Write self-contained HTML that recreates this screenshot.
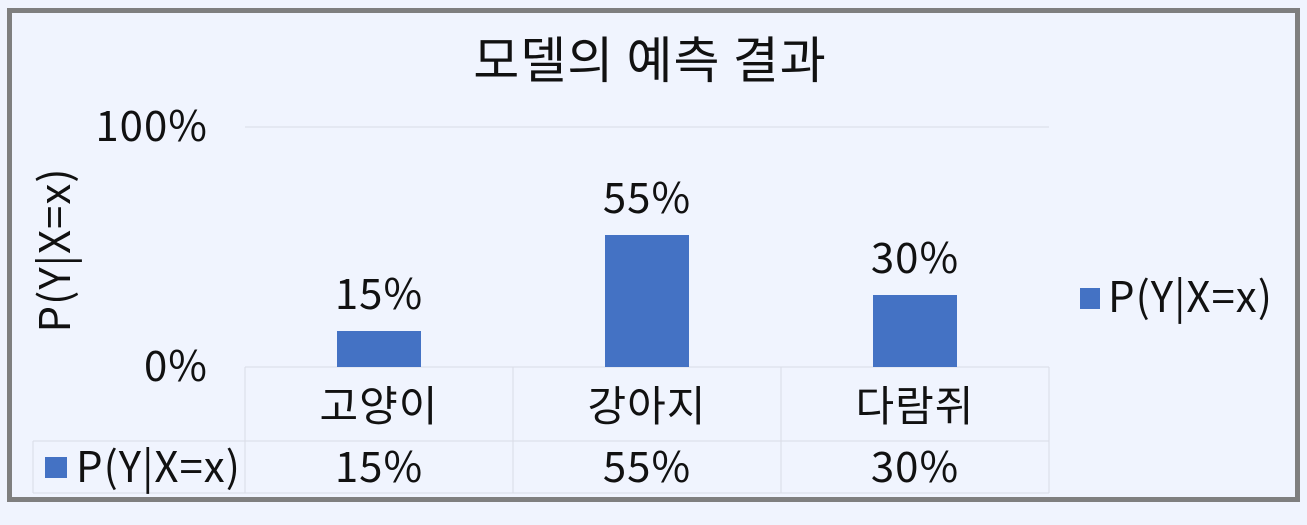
<!DOCTYPE html>
<html><head><meta charset="utf-8"><style>
body{margin:0;background:#f0f4fe;}
svg text{font-family:"Noto Sans CJK KR","Liberation Sans",sans-serif;fill:#111;letter-spacing:1px;}
</style></head><body>
<svg width="1307" height="520">
<rect x="0" y="0" width="1307" height="520" fill="#f0f4fe"/>
<rect x="9.5" y="10.5" width="1288" height="489" fill="none" stroke="#7f7f7f" stroke-width="5"/>
<text x="650" y="78" font-size="50" text-anchor="middle">모델의 예측 결과</text>
<text transform="translate(70,250) rotate(-90)" font-size="42" text-anchor="middle">P(Y|X=x)</text>
<g id="plot"></g>
<rect x="1080" y="288" width="20" height="21" fill="#4472c4"/>
<text x="1108" y="312" font-size="42">P(Y|X=x)</text>
</svg>
<script>
const categories=["고양이","강아지","다람쥐"];
const values=[15,55,30];
const ticks=[0,100];
const svg=document.getElementById('plot');
const NS="http://www.w3.org/2000/svg";
const x0=245,x1=1049,yBase=367,yTop=127;
const bw=(x1-x0)/categories.length;
const y=v=>yBase-(v/100)*(yBase-yTop);
function mk(t,a,txt){const e=document.createElementNS(NS,t);for(const k in a)e.setAttribute(k,a[k]);if(txt!=null)e.textContent=txt;svg.appendChild(e);return e;}
ticks.forEach(t=>{
 if(t>0){const g=mk('line',{x1:x0,x2:x1,y1:y(t),y2:y(t),stroke:'#d9dce6','stroke-width':1});
 
 }
 const l=mk('text',{x:208,y:y(t)+14,'font-size':42,'text-anchor':'end'},t+'%');
 
 
});
[[x0,yBase,x1,yBase],[33,441,x1,441],[33,493,x1,493],[33,441,33,493]].forEach(c=>{
 const e=mk('line',{x1:c[0],y1:c[1],x2:c[2],y2:c[3],stroke:'#d9dce6','stroke-width':1});
 
 
});
for(let i=0;i<=categories.length;i++){
 const e=mk('line',{x1:x0+i*bw,x2:x0+i*bw,y1:yBase,y2:493,stroke:'#d9dce6','stroke-width':1});
 
 
}
const sw=mk('rect',{x:45,y:457,width:22,height:21,fill:'#4472c4'});


const tl=mk('text',{x:76,y:482,'font-size':42},'P(Y|X=x)');


categories.forEach((c,i)=>{
 const cx=x0+bw*(i+0.5);
 const b=mk('rect',{x:cx-42,y:y(values[i]),width:84,height:yBase-y(values[i]),fill:'#4472c4'});
 
 
 const v=mk('text',{x:cx,y:y(values[i])-22,'font-size':42,'text-anchor':'middle'},values[i]+'%');
 
 
 const cl=mk('text',{x:cx,y:421,'font-size':42,'text-anchor':'middle'},c);
 
 
 const tv=mk('text',{x:cx,y:482,'font-size':42,'text-anchor':'middle'},values[i]+'%');
 
 
});
</script>
</body></html>
